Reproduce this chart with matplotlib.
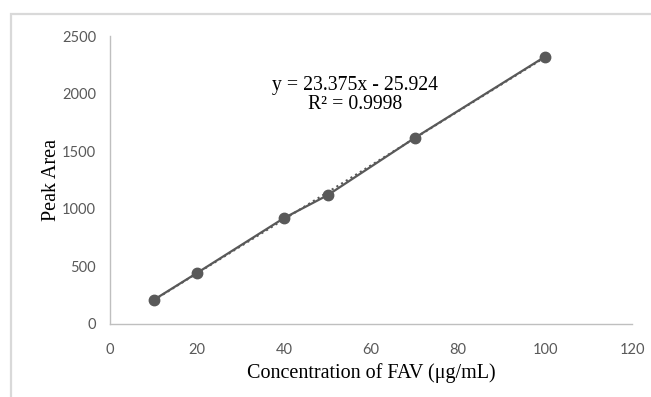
import matplotlib.pyplot as plt
import numpy as np
from matplotlib.patches import Rectangle

# calibration data
conc = [10, 20, 40, 50, 70, 100]
peak_area = [208, 443, 920, 1118, 1615, 2322]
x_ticks = [0, 20, 40, 60, 80, 100, 120]
y_ticks = [0, 500, 1000, 1500, 2000, 2500]

grey = '#595959'

fig = plt.figure(figsize=(6.51, 3.97), dpi=100)
ax = fig.add_axes([0.169, 0.184, 0.802, 0.725])

# chart area border like excel
fig.patches.append(Rectangle((11 / 651, -0.05), 1.0, 1 - 14 / 397 + 0.05,
                             transform=fig.transFigure, fill=False,
                             edgecolor='#d9d9d9', linewidth=1.6))

# linear trendline (dotted) under the series
slope, intercept = np.polyfit(conc, peak_area, 1)
xs = np.array([min(conc), max(conc)])
ax.plot(xs, slope * xs + intercept, color=grey, linestyle=':', linewidth=1.5, zorder=2)

ax.plot(conc, peak_area, color=grey, linewidth=1.6, marker='o', markersize=7.5, zorder=3)

ax.set_xlim(0, 120)
ax.set_ylim(0, 2500)
ax.set_xticks(x_ticks)
ax.set_yticks(y_ticks)

for s in ['top', 'right']:
    ax.spines[s].set_visible(False)
for s in ['left', 'bottom']:
    ax.spines[s].set_color('#bfbfbf')
    ax.spines[s].set_linewidth(1.0)

ax.tick_params(length=0, labelsize=10.5, labelcolor='#595959')
ax.tick_params(axis='x', pad=14)
ax.tick_params(axis='y', pad=10)
for lbl in ax.get_xticklabels() + ax.get_yticklabels():
    lbl.set_family('Lato')

ax.set_xlabel('Concentration of FAV (μg/mL)', family='Liberation Serif', fontsize=14.5, labelpad=4)
ax.set_ylabel('Peak Area', family='Liberation Serif', fontsize=14.5, labelpad=1)

ax.text(56.3, 1990, 'y = 23.375x - 25.924\nR² = 0.9998', family='Liberation Serif',
        fontsize=14.2, ha='center', va='center', linespacing=1.0)

fig.savefig('out.png', dpi=100)
